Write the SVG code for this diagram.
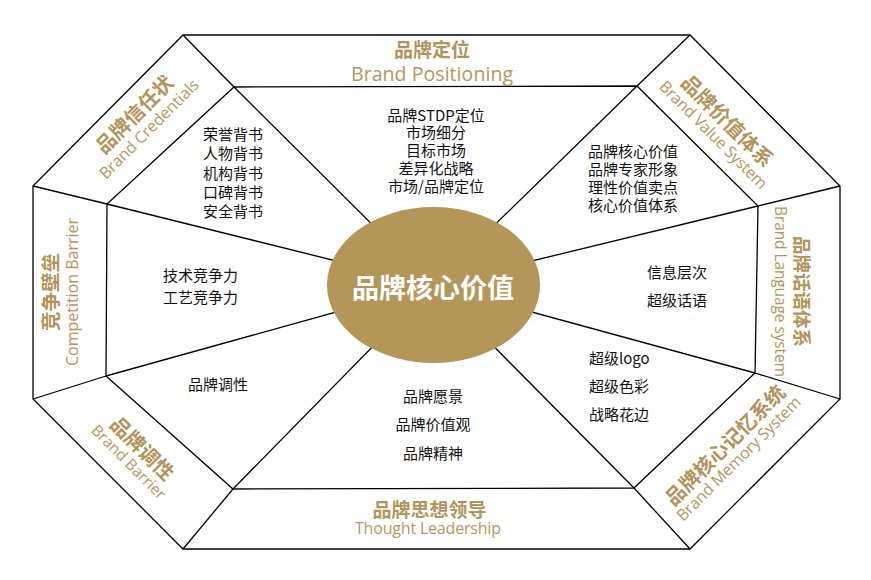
<svg xmlns="http://www.w3.org/2000/svg" width="871" height="580" viewBox="0 0 871 580">
<style>
.ln{stroke:#000;stroke-width:1.3;fill:none}
.t{font-family:"Noto Sans CJK SC","Noto Sans",sans-serif;font-size:15px;fill:#111}
.tc{text-anchor:middle}
.h{font-family:"Noto Sans CJK SC","Noto Sans",sans-serif;font-weight:bold;fill:#b3945a;text-anchor:middle}
.e{font-family:"Open Sans","Noto Sans",sans-serif;fill:#b5975d;text-anchor:middle}
</style>
<rect width="871" height="580" fill="#fff"/>
<g id="connectors">
<line class="ln" x1="234" y1="87" x2="433" y2="285"/>
<line class="ln" x1="637" y1="86" x2="433" y2="285"/>
<line class="ln" x1="758" y1="206" x2="433" y2="285"/>
<line class="ln" x1="755" y1="373" x2="433" y2="285"/>
<line class="ln" x1="634" y1="488" x2="433" y2="285"/>
<line class="ln" x1="233" y1="489" x2="433" y2="285"/>
<line class="ln" x1="106" y1="376" x2="433" y2="285"/>
<line class="ln" x1="107" y1="204" x2="433" y2="285"/>
<line class="ln" x1="183" y1="35" x2="234" y2="87"/>
<line class="ln" x1="690" y1="35" x2="637" y2="86"/>
<line class="ln" x1="840" y1="186" x2="758" y2="206"/>
<line class="ln" x1="840" y1="399" x2="755" y2="373"/>
<line class="ln" x1="690" y1="549" x2="634" y2="488"/>
<line class="ln" x1="183" y1="549" x2="233" y2="489"/>
<line class="ln" x1="33" y1="399" x2="106" y2="376"/>
<line class="ln" x1="33" y1="186" x2="107" y2="204"/>
</g>
<g id="frame">
<polygon class="ln" points="183,35 690,35 840,186 840,399 690,549 183,549 33,399 33,186"/>
<polygon class="ln" points="234,87 637,86 758,206 755,373 634,488 233,489 106,376 107,204"/>
</g>
<g id="core">
<ellipse cx="433.5" cy="285" rx="106.5" ry="78" fill="#b49659"/>
<text x="433" y="297.5" font-family="Noto Sans CJK SC, sans-serif" font-weight="bold" font-size="27" fill="#fff" text-anchor="middle">品牌核心价值</text>
</g>
<g id="brand-positioning">
<text class="h" x="432" y="57.2" font-size="19">品牌定位</text>
<text class="e" x="432" y="81" font-size="19.5" textLength="162">Brand Positioning</text>
<text class="t tc" x="436" y="120.7">品牌STDP定位</text>
<text class="t tc" x="436" y="137.7">市场细分</text>
<text class="t tc" x="436" y="155.7">目标市场</text>
<text class="t tc" x="436" y="173.7">差异化战略</text>
<text class="t tc" x="436" y="191.7">市场/品牌定位</text>
</g>
<g id="brand-value-system">
<g transform="translate(727.5,120.8) rotate(45)">
<text class="h" x="0" y="7.6" font-size="20">品牌价值体系</text>
<text class="e" x="0" y="25.5" font-size="16" textLength="145">Brand Value System</text>
</g>
<text class="t tc" x="633" y="156.7">品牌核心价值</text>
<text class="t tc" x="633" y="175.2">品牌专家形象</text>
<text class="t tc" x="633" y="192.7">理性价值卖点</text>
<text class="t tc" x="633" y="211.2">核心价值体系</text>
</g>
<g id="brand-language-system">
<g transform="translate(801.7,291.5) rotate(90)">
<text class="h" x="0" y="7" font-size="18.5">品牌话语体系</text>
<text class="e" x="0" y="27.2" font-size="15.5" textLength="171">Brand Language system</text>
</g>
<text class="t" x="647" y="277.7">信息层次</text>
<text class="t" x="647" y="305.7">超级话语</text>
</g>
<g id="brand-memory-system">
<g transform="translate(725,445) rotate(-45)">
<text class="h" x="0" y="7.6" font-size="20">品牌核心记忆系统</text>
<text class="e" x="0" y="24.8" font-size="16" textLength="168">Brand Memory System</text>
</g>
<text class="t" x="589" y="363.7">超级logo</text>
<text class="t" x="589" y="392.2">超级色彩</text>
<text class="t" x="589" y="419.7">战略花边</text>
</g>
<g id="thought-leadership">
<text class="h" x="429.5" y="516.7" font-size="19">品牌思想领导</text>
<text class="e" x="428" y="534" font-size="16" textLength="146">Thought Leadership</text>
<text class="t tc" x="433" y="401.7">品牌愿景</text>
<text class="t tc" x="433" y="429.7">品牌价值观</text>
<text class="t tc" x="433" y="458.7">品牌精神</text>
</g>
<g id="brand-barrier">
<g transform="translate(142.5,448.3) rotate(45)">
<text class="h" x="0" y="7.6" font-size="20">品牌调性</text>
<text class="e" x="0" y="24.9" font-size="15.5" textLength="98">Brand Barrier</text>
</g>
<text class="t" x="188" y="389.7">品牌调性</text>
</g>
<g id="competition-barrier">
<g transform="translate(51,292) rotate(-90)">
<text class="h" x="0" y="7.4" font-size="19.5">竞争壁垒</text>
<text class="e" x="0" y="27.4" font-size="16" textLength="148">Competition Barrier</text>
</g>
<text class="t" x="163" y="280.7">技术竞争力</text>
<text class="t" x="163" y="302.7">工艺竞争力</text>
</g>
<g id="brand-credentials">
<g transform="translate(134.2,114.2) rotate(-45)">
<text class="h" x="0" y="7.6" font-size="20">品牌信任状</text>
<text class="e" x="0" y="26.5" font-size="16" textLength="133">Brand Credentials</text>
</g>
<text class="t" x="203" y="139.7">荣誉背书</text>
<text class="t" x="203" y="158.7">人物背书</text>
<text class="t" x="203" y="179.2">机构背书</text>
<text class="t" x="203" y="198.2">口碑背书</text>
<text class="t" x="203" y="216.7">安全背书</text>
</g>
</svg>
